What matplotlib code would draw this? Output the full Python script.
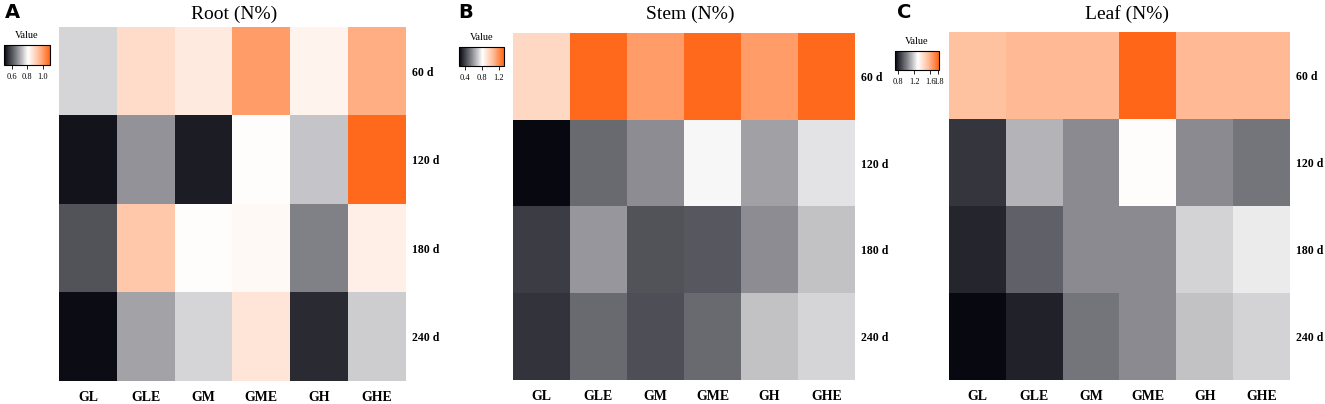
import numpy as np
import matplotlib
matplotlib.use("Agg")
import matplotlib.pyplot as plt
from matplotlib.colors import LinearSegmentedColormap

groups = ["GL", "GLE", "GM", "GME", "GH", "GHE"]
days = ["60 d", "120 d", "180 d", "240 d"]

# rows = days, columns = groups
root_n = [
    [0.76, 0.88, 0.85, 1.00, 0.83, 0.97],
    [0.52, 0.68, 0.53, 0.81, 0.74, 1.08],
    [0.60, 0.92, 0.81, 0.82, 0.66, 0.84],
    [0.51, 0.70, 0.76, 0.86, 0.55, 0.75],
]
stem_n = [
    [0.96, 1.30, 1.16, 1.30, 1.16, 1.30],
    [0.28, 0.50, 0.58, 0.80, 0.62, 0.76],
    [0.40, 0.60, 0.45, 0.46, 0.58, 0.69],
    [0.38, 0.50, 0.44, 0.50, 0.69, 0.73],
]
leaf_n = [
    [1.53, 1.56, 1.56, 1.81, 1.56, 1.56],
    [0.84, 1.13, 1.04, 1.30, 1.04, 0.99],
    [0.80, 0.94, 1.04, 1.04, 1.20, 1.25],
    [0.73, 0.79, 0.99, 1.04, 1.16, 1.20],
]

panels = [
    # letter, title, data, vmin, vmax, ticks
    ("A", "Root (N%)", root_n, 0.50, 1.09, [0.6, 0.8, 1.0]),
    ("B", "Stem (N%)", stem_n, 0.27, 1.32, [0.4, 0.8, 1.2]),
    ("C", "Leaf (N%)", leaf_n, 0.72, 1.82, [0.8, 1.2, 1.6, 1.8]),
]

cmap = LinearSegmentedColormap.from_list(
    "bgo",
    [(0.0, "#05050e"), (0.28, "#85858c"), (0.52, "#ffffff"),
     (0.76, "#ffbc98"), (1.0, "#ff6414")])

W, H = 1325, 404
fig = plt.figure(figsize=(W / 100, H / 100), dpi=100)

# pixel boxes: heatmap (l, t, r, b), colorbar (l, t, r, b), title x, letter x
boxes = [
    ((59, 27, 406, 381), (4, 45, 50, 65), 234, 12),
    ((513, 33, 855, 380), (459, 47, 504, 66), 690, 466),
    ((949, 32, 1290, 380), (895, 51, 939, 70), 1127, 904),
]

serif = "Liberation Serif"

for (letter, title, data, vmin, vmax, ticks), (hb, cb, tx, lx) in zip(panels, boxes):
    l, t, r, b = hb
    ax = fig.add_axes([l / W, 1 - b / H, (r - l) / W, (b - t) / H])
    arr = np.array(data)
    im = ax.imshow(arr, cmap=cmap, vmin=vmin, vmax=vmax, aspect="auto",
                   interpolation="nearest")
    ax.set_xticks(range(len(groups)))
    ax.set_xticklabels(groups, fontfamily=serif, fontweight="bold", fontsize=10)
    ax.set_yticks(range(len(days)))
    ax.set_yticklabels(days, fontfamily=serif, fontweight="bold", fontsize=8.5)
    ax.yaxis.tick_right()
    ax.tick_params(axis="y", length=0, pad=4)
    ax.tick_params(axis="x", length=0, pad=7)
    for s in ax.spines.values():
        s.set_visible(False)

    fig.text(tx / W, 1 - 14 / H, title, ha="center", va="center",
             fontfamily=serif, fontsize=14)
    fig.text(lx / W, 1 - 13 / H, letter, ha="center", va="center",
             fontfamily="DejaVu Sans", fontweight="bold", fontsize=14)

    cl, ct, cr, cbm = cb
    cax = fig.add_axes([cl / W, 1 - cbm / H, (cr - cl) / W, (cbm - ct) / H])
    cbar = fig.colorbar(im, cax=cax, orientation="horizontal", ticks=ticks)
    cbar.outline.set_linewidth(0.8)
    cax.tick_params(labelsize=6, length=3, width=0.6, pad=3)
    for lab in cax.get_xticklabels():
        lab.set_fontfamily(serif)
    fig.text((cl + cr) / 2 / W, 1 - (ct - 9) / H, "Value", ha="center",
             va="center", fontfamily=serif, fontsize=7.5)

fig.savefig("out.png", dpi=100)
